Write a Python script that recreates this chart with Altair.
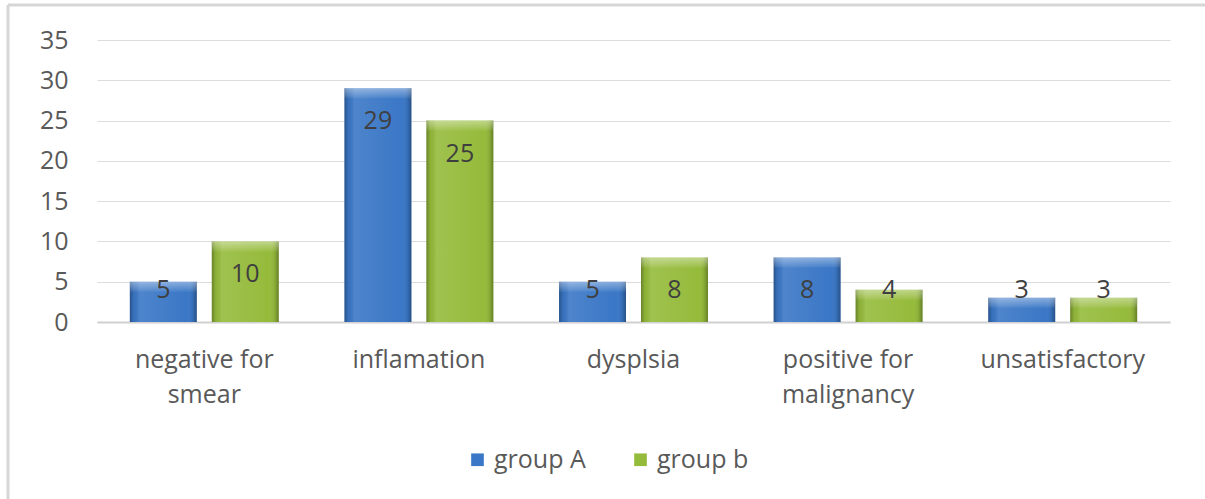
import altair as alt
import pandas as pd

# Cytology results by category for the two groups
categories = ["negative for smear", "inflamation", "dysplsia",
              "positive for malignancy", "unsatisfactory"]
groups = ["group A", "group b"]
group_a = [5, 29, 5, 8, 3]
group_b = [10, 25, 8, 4, 3]

rows = []
for cat, a, b in zip(categories, group_a, group_b):
    rows.append({"category": cat, "group": groups[0], "value": a})
    rows.append({"category": cat, "group": groups[1], "value": b})
df = pd.DataFrame(rows)

FONT = "Open Sans"
TEXT_GRAY = "#595959"
FS = 25
W, H = 1073, 282

x_enc = alt.X("category:N", sort=categories, title=None,
              scale=alt.Scale(paddingInner=0.306, paddingOuter=0.153),
              axis=alt.Axis(
                  labelAngle=0, labelFont=FONT, labelFontSize=FS,
                  labelColor=TEXT_GRAY, labelPadding=25, labelLineHeight=35,
                  labelBaseline="top",
                  labelExpr="indexof(datum.label, ' for ') >= 0 ? "
                            "[slice(datum.label, 0, indexof(datum.label, ' for ') + 4), "
                            "slice(datum.label, indexof(datum.label, ' for ') + 5)] : datum.label",
                  ticks=False, domain=True, domainColor="#D0D0D0", domainWidth=2,
                  grid=False))
xo_enc = alt.XOffset("group:N", sort=groups,
                     scale=alt.Scale(paddingInner=0.183, paddingOuter=0))
y_scale = alt.Scale(domain=[0, 35])
y_enc = alt.Y("value:Q", scale=y_scale, title=None,
              axis=alt.Axis(values=list(range(0, 36, 5)), labelFont=FONT,
                            labelFontSize=FS, labelColor=TEXT_GRAY,
                            labelPadding=29, ticks=False, domain=False,
                            gridColor="#DCDCDC", gridWidth=1.2))

base = alt.Chart(df)

bars = base.mark_bar().encode(
    x=x_enc, xOffset=xo_enc, y=y_enc,
    color=alt.Color("group:N", sort=groups,
                    scale=alt.Scale(domain=groups, range=["#3A77C6", "#95BB3B"]),
                    legend=alt.Legend(
                        title=None, orient="none", direction="horizontal",
                        legendX=368, legendY=407, symbolType="square",
                        symbolSize=160, symbolStrokeWidth=0,
                        labelFont=FONT, labelFontSize=FS, labelColor=TEXT_GRAY,
                        labelOffset=4, columnPadding=42)),
)

# shading across each bar: darker edges, lighter body
side_shade = base.mark_bar(color={
    "gradient": "linear", "x1": 0, "x2": 1, "y1": 0, "y2": 0,
    "stops": [
        {"offset": 0.0, "color": "rgba(0,0,0,0.30)"},
        {"offset": 0.06, "color": "rgba(0,0,0,0.05)"},
        {"offset": 0.15, "color": "rgba(255,255,255,0.10)"},
        {"offset": 0.85, "color": "rgba(255,255,255,0.0)"},
        {"offset": 0.94, "color": "rgba(0,0,0,0.08)"},
        {"offset": 1.0, "color": "rgba(0,0,0,0.32)"},
    ]}).encode(x=alt.X("category:N", sort=categories), xOffset=xo_enc,
               y=alt.Y("value:Q", scale=y_scale))

# bevelled top edge
top_bevel = base.mark_bar(y2Offset=10, color={
    "gradient": "linear", "x1": 0, "x2": 0, "y1": 0, "y2": 1,
    "stops": [
        {"offset": 0.0, "color": "rgba(255,255,255,0.40)"},
        {"offset": 1.0, "color": "rgba(255,255,255,0.05)"},
    ]}).encode(x=alt.X("category:N", sort=categories), xOffset=xo_enc,
               y=alt.Y("value:Q", scale=y_scale), y2="value:Q")

labels = base.transform_calculate(
    label_pos="max(datum.value - 4.1, 4)"
).mark_text(font=FONT, fontSize=FS, color="#3F3F3F", baseline="middle").encode(
    x=alt.X("category:N", sort=categories), xOffset=xo_enc,
    y=alt.Y("label_pos:Q", scale=y_scale),
    text="value:Q",
)

# light frame around the chart area
frame_top = alt.Chart(pd.DataFrame({"k": [0]})).mark_rule(
    color="#D6D6D6", strokeWidth=3).encode(
    x=alt.value(-89), x2=alt.value(1108), y=alt.value(-35))
frame_left = alt.Chart(pd.DataFrame({"k": [0]})).mark_rule(
    color="#D6D6D6", strokeWidth=3).encode(
    x=alt.value(-89), y=alt.value(-35), y2=alt.value(460))

chart = alt.layer(bars, side_shade, top_bevel, labels, frame_top, frame_left).properties(
    width=W, height=H,
    autosize=alt.AutoSizeParams(type="none"),
    padding={"left": 97, "top": 40, "right": 35, "bottom": 177},
    background="white",
).configure_view(stroke=None)

chart.save("out.html", embed_options={"renderer": "svg", "actions": False})
